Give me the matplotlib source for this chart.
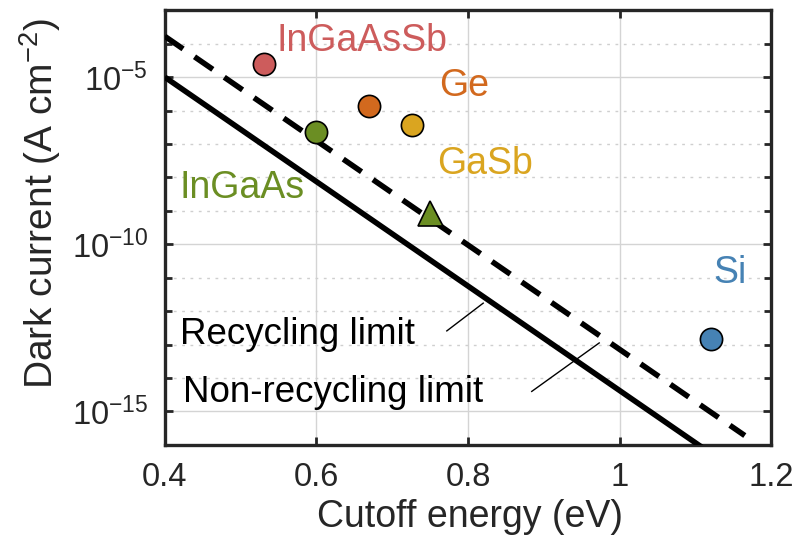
import numpy as np
import matplotlib
matplotlib.use("Agg")
import matplotlib.pyplot as plt
from matplotlib.ticker import FixedLocator, FixedFormatter, NullFormatter

plt.rcParams["font.family"] = ["Liberation Sans", "DejaVu Sans"]
plt.rcParams["mathtext.fontset"] = "custom"
plt.rcParams["mathtext.rm"] = "Liberation Sans"
plt.rcParams["mathtext.it"] = "Liberation Sans"
plt.rcParams["mathtext.default"] = "regular"

# limit lines (cutoff energy in eV, dark current in A cm^-2)
recyc_E = [0.40, 1.20]
recyc_J = [1e-5, 10 ** -17.5]
nonrecyc_E = [0.40, 1.165]
nonrecyc_J = [10 ** -3.78, 10 ** -15.72]

# material data points
materials = ["InGaAsSb", "Ge", "InGaAs", "GaSb", "Si"]
mat_E = [0.531, 0.669, 0.600, 0.726, 1.121]
mat_J = [10 ** -4.61, 10 ** -5.86, 10 ** -6.64, 10 ** -6.43, 10 ** -12.83]
mat_colors = ["#CD5C5C", "#D2691E", "#6B8E23", "#DAA520", "#4682B4"]

# extended-InGaAs triangle
tri_E = [0.750]
tri_J = [10 ** -9.06]

# label positions (left edge, vertical centre)
label_E = [0.548, 0.762, 0.420, 0.759, 1.123]
label_J = [10 ** -3.93, 10 ** -5.27, 10 ** -8.33, 10 ** -7.59, 10 ** -10.86]

xticks = [0.4, 0.6, 0.8, 1.0, 1.2]
xticklabels = ["0.4", "0.6", "0.8", "1", "1.2"]
ymajor = [1e-15, 1e-10, 1e-5]
ymajor_labels = ["$10^{-15}$", "$10^{-10}$", "$10^{-5}$"]
yminor = [10.0 ** k for k in range(-16, -2) if k not in (-15, -10, -5)]

spine_col = "#262626"

fig = plt.figure(figsize=(7.96, 5.38), dpi=100)
ax = fig.add_axes([0.207, 0.173, 0.762, 0.808])
ax.set_yscale("log")
ax.set_xlim(0.4, 1.2)
ax.set_ylim(1e-16, 1e-3)

ax.xaxis.set_major_locator(FixedLocator(xticks))
ax.xaxis.set_major_formatter(FixedFormatter(xticklabels))
ax.xaxis.set_minor_locator(FixedLocator([]))
ax.yaxis.set_major_locator(FixedLocator(ymajor))
ax.yaxis.set_major_formatter(FixedFormatter(ymajor_labels))
ax.yaxis.set_minor_locator(FixedLocator(yminor))
ax.yaxis.set_minor_formatter(NullFormatter())

ax.grid(True, which="major", color="#d4d4d4", lw=1.0, zorder=0)
ax.grid(True, which="minor", axis="y", color="#cfcfcf", lw=1.0,
        linestyle=(0, (2, 4)), zorder=0)
ax.set_axisbelow(True)

ax.tick_params(which="both", direction="in", top=True, right=True,
               color=spine_col, width=2.0, labelsize=23.5, labelcolor=spine_col)
ax.tick_params(which="major", length=6, pad=12)
ax.tick_params(which="minor", length=5)
for s in ax.spines.values():
    s.set_linewidth(2.4)
    s.set_color(spine_col)

ax.plot(recyc_E, recyc_J, color="black", lw=4.0, solid_capstyle="butt", zorder=3)
ax.plot(nonrecyc_E, nonrecyc_J, color="black", lw=4.0, linestyle=(0, (4.0, 2.5)),
        dash_capstyle="butt", zorder=3)

for e, j, c in zip(mat_E, mat_J, mat_colors):
    ax.plot(e, j, "o", ms=16, mfc=c, mec="black", mew=1.2, zorder=5, clip_on=False)
ax.plot(tri_E, tri_J, "^", ms=18, mfc="#6B8E23", mec="black", mew=1.2, zorder=5)

for name, e, j, c in zip(materials, label_E, label_J, mat_colors):
    ax.text(e, j, name, color=c, fontsize=27, ha="left", va="center", zorder=6)

ax.text(0.420, 10 ** -12.71, "Recycling limit", fontsize=26.5, ha="left", va="center", zorder=6)
ax.text(0.424, 10 ** -14.43, "Non-recycling limit", fontsize=26.5, ha="left", va="center", zorder=6)
ax.plot([0.772, 0.820], [10 ** -12.59, 10 ** -11.76], color="black", lw=1.0, zorder=4)
ax.plot([0.884, 0.973], [10 ** -14.40, 10 ** -12.95], color="black", lw=1.0, zorder=4)

ax.set_xlabel("Cutoff energy (eV)", fontsize=27, color=spine_col)
ax.set_ylabel("Dark current (A cm$^{-2}$)", fontsize=28, color=spine_col)
ax.xaxis.label.set_va("center")
ax.yaxis.label.set_va("center")
ax.xaxis.set_label_coords(0.503, -0.166)
ax.yaxis.set_label_coords(-0.206, 0.556)

fig.savefig("out.png", dpi=100)
